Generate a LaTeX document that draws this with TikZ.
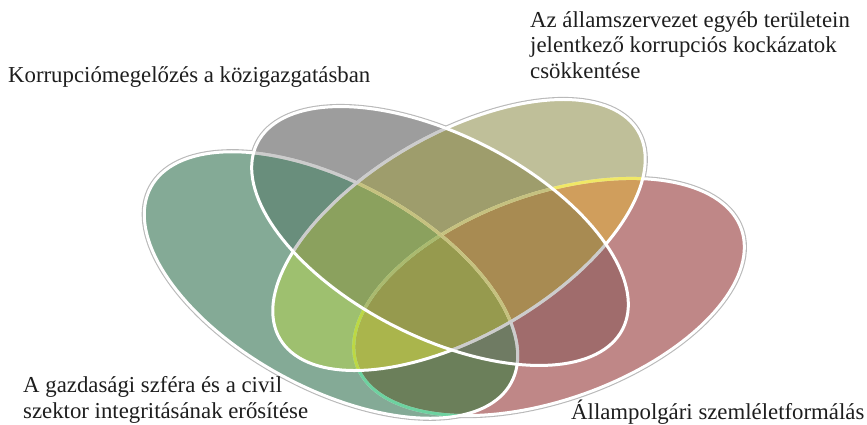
\documentclass[tikz,border=0pt]{standalone}
\usepackage{fontspec}
\setmainfont{Liberation Serif}
\definecolor{cG}{RGB}{132,170,150}
\definecolor{cY}{RGB}{157,157,157}
\definecolor{cO}{RGB}{191,191,153}
\definecolor{cR}{RGB}{191,135,135}
\definecolor{cGY}{RGB}{105,142,124}
\definecolor{cGO}{RGB}{158,192,111}
\definecolor{cGR}{RGB}{107,127,90}
\definecolor{cYO}{RGB}{158,157,108}
\definecolor{cYR}{RGB}{160,108,108}
\definecolor{cOR}{RGB}{208,158,92}
\definecolor{cGYO}{RGB}{139,161,94}
\definecolor{cGYR}{RGB}{111,123,99}
\definecolor{cGOR}{RGB}{170,181,76}
\definecolor{cYOR}{RGB}{168,139,82}
\definecolor{cGYOR}{RGB}{150,154,78}
\definecolor{tG}{RGB}{13,180,97}
\definecolor{tO}{RGB}{232,220,20}
\definecolor{tY}{RGB}{155,155,155}
\definecolor{halo}{RGB}{185,185,185}
\definecolor{txt}{RGB}{30,30,30}
% ellipses in image coordinates: centre, semi axes, tilt (degrees, image y down)
\def\ShG{plot[domain=0:360,samples=145,variable=\t] ({331+205*cos(\t)*cos(28.5)-103*sin(\t)*sin(28.5)},{285+205*cos(\t)*sin(28.5)+103*sin(\t)*cos(28.5)}) -- cycle}
\def\ShY{plot[domain=0:360,samples=145,variable=\t] ({440+205*cos(\t)*cos(27)-101*sin(\t)*sin(27)},{236+205*cos(\t)*sin(27)+101*sin(\t)*cos(27)}) -- cycle}
\def\ShO{plot[domain=0:360,samples=145,variable=\t] ({459+207*cos(\t)*cos(-30)-101*sin(\t)*sin(-30)},{235+207*cos(\t)*sin(-30)+101*sin(\t)*cos(-30)}) -- cycle}
\def\ShR{plot[domain=0:360,samples=145,variable=\t] ({549+204*cos(\t)*cos(-19.5)-103*sin(\t)*sin(-19.5)},{297+204*cos(\t)*sin(-19.5)+103*sin(\t)*cos(-19.5)}) -- cycle}
\tikzset{
  outline/.style={draw=white, line width=3pt, line join=round},
  halostroke/.style={draw=halo, line width=5.2pt},
  lbl/.style={inner sep=0pt, text=txt, font=\fontsize{22.8}{25.5}\selectfont, anchor=base west}
}
\begin{document}
\begin{tikzpicture}[x=1pt,y=-1pt]
\useasboundingbox (0,0) rectangle (867,424);
\fill[white] (0,0) rectangle (867,424);
% halo under everything
\draw[halostroke] \ShR; \draw[halostroke] \ShG; \draw[halostroke] \ShO; \draw[halostroke] \ShY;
% single regions
\fill[cR] \ShR; \fill[cG] \ShG; \fill[cO] \ShO; \fill[cY] \ShY;
% pairs
\begin{scope}\clip \ShG; \fill[cGY] \ShY; \end{scope}
\begin{scope}\clip \ShG; \fill[cGO] \ShO; \end{scope}
\begin{scope}\clip \ShG; \fill[cGR] \ShR; \end{scope}
\begin{scope}\clip \ShY; \fill[cYO] \ShO; \end{scope}
\begin{scope}\clip \ShY; \fill[cYR] \ShR; \end{scope}
\begin{scope}\clip \ShO; \fill[cOR] \ShR; \end{scope}
% triples
\begin{scope}\clip \ShG; \clip \ShY; \fill[cGYO] \ShO; \end{scope}
\begin{scope}\clip \ShG; \clip \ShY; \fill[cGYR] \ShR; \end{scope}
\begin{scope}\clip \ShG; \clip \ShO; \fill[cGOR] \ShR; \end{scope}
\begin{scope}\clip \ShY; \clip \ShO; \fill[cYOR] \ShR; \end{scope}
% all four
\begin{scope}\clip \ShG; \clip \ShY; \clip \ShO; \fill[cGYOR] \ShR; \end{scope}
% outlines, bottom to top: red, green, olive, gray
\draw[outline] \ShR;
\begin{scope}\clip \ShG; \draw[outline, draw=tG, draw opacity=0.6] \ShR; \end{scope}
\begin{scope}\clip \ShO; \draw[outline, draw=tO, draw opacity=0.65] \ShR; \end{scope}
\begin{scope}\clip \ShY; \draw[outline, draw=tY, draw opacity=0.5] \ShR; \end{scope}
\draw[outline] \ShG;
\begin{scope}\clip \ShO; \draw[outline, draw=tO, draw opacity=0.65] \ShG; \end{scope}
\begin{scope}\clip \ShY; \draw[outline, draw=tY, draw opacity=0.5] \ShG; \end{scope}
\draw[outline] \ShO;
\begin{scope}\clip \ShY; \draw[outline, draw=tY, draw opacity=0.5] \ShO; \end{scope}
\draw[outline] \ShY;
% labels (multi-line nodes: base = last line)
\node[lbl] (kozig) at (8,82) {Korrupciómegelőzés a közigazgatásban};
\node[lbl, align=left] (allam) at (530,78) {Az államszervezet egyéb területein\\jelentkező korrupciós kockázatok\\csökkentése};
\node[lbl, align=left] (gazd) at (23,418) {A gazdasági szféra és a civil\\szektor integritásának erősítése};
\node[lbl] (polg) at (571,419) {Állampolgári szemléletformálás};
\end{tikzpicture}
\end{document}
